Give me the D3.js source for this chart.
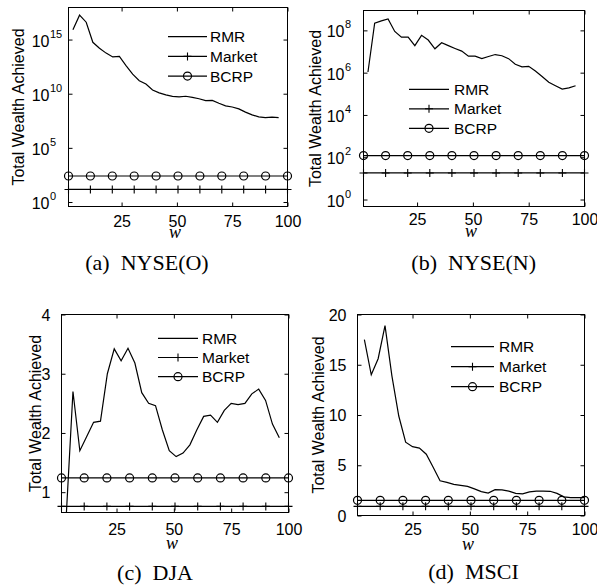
<!DOCTYPE html>
<html>
<head>
<meta charset="utf-8">
<script src="https://cdn.jsdelivr.net/npm/d3@7"></script>
<style>
  body { margin: 0; background: #fff; }
  text { font-family: 'Liberation Sans', Arial, sans-serif; fill: #000; }
  .serif { font-family: 'Liberation Serif', 'Times New Roman', serif; }
</style>
</head>
<body>
<svg id="chart" width="597" height="587"></svg>
<script>
// window sizes w
const w = [3, 6, 9, 12, 15, 18, 21, 24, 27, 30, 33, 36, 39, 42, 45, 48, 51, 54, 57, 60, 63, 66, 69, 72, 75, 78, 81, 84, 87, 90, 93, 96]
const wMSCI = [4, 7, 10, 13, 16, 19, 22, 25, 28, 31, 34, 37, 40, 43, 46, 49, 52, 55, 58, 61, 64, 67, 70, 73, 76, 79, 82, 85, 88, 91, 94, 97, 100]
const markerW = [1, 10.9, 20.8, 30.7, 40.6, 50.5, 60.4, 70.3, 80.2, 90.1, 100]
const xTicks = [25, 50, 75, 100]

// RMR total wealth
const rmrNYSEO = [7.9e15, 1.8e17, 4.0e16, 5.6e14, 1.6e14, 5.6e13, 2.5e13, 2.8e13, 4.0e12, 6.3e11, 1.6e11, 7.9e10, 2.2e10, 1.2e10, 7.9e9, 5.6e9,
  5.2e9, 5.8e9, 4.6e9, 3.4e9, 2.3e9, 2.4e9, 1.3e9, 7.6e8, 5.9e8, 4.0e8, 2.0e8, 1.1e8, 7.2e7, 6.3e7, 6.9e7, 6.3e7]
const rmrNYSEN = [1.07e6, 2.2e8, 2.8e8, 3.5e8, 8.9e7, 4.8e7, 4.8e7, 1.9e7, 5.8e7, 3.5e7, 1.35e7, 2.6e7, 1.9e7, 1.4e7, 1.05e7, 6.0e6,
  6.0e6, 4.6e6, 5.8e6, 7.2e6, 6.3e6, 4.6e6, 2.5e6, 1.9e6, 2.0e6, 1.2e6, 6.6e5, 3.5e5, 2.4e5, 1.66e5, 1.9e5, 2.4e5]
const rmrDJA = [0.55, 2.70, 1.70, 1.94, 2.18, 2.20, 3.0, 3.42, 3.22, 3.43, 3.18, 2.68, 2.50, 2.46, 2.05, 1.70,
  1.60, 1.66, 1.80, 2.05, 2.28, 2.30, 2.18, 2.38, 2.50, 2.48, 2.50, 2.66, 2.74, 2.55, 2.15, 1.92]
const rmrMSCI = [17.5, 14.0, 15.6, 18.9, 13.9, 9.9, 7.3, 6.85, 6.7, 6.1, 4.8, 3.45, 3.3, 3.1, 3.0, 2.9,
  2.65, 2.38, 2.23, 2.57, 2.55, 2.42, 2.2, 2.15, 2.35, 2.43, 2.42, 2.41, 2.2, 1.85, 1.77, 1.77, 1.77]

// benchmarks (constant in w)
const market = [14.50, 18.06, 0.76, 0.91]
const bcrp = [250.60, 120.32, 1.24, 1.51]

// y ticks
const yTicksNYSEO = [1, 1e5, 1e10, 1e15]
const yTicksNYSEN = [1, 1e2, 1e4, 1e6, 1e8]
const yTicksDJA = [1, 2, 3, 4]
const yTicksMSCI = [0, 5, 10, 15, 20]

const legendNames = ['RMR', 'Market', 'BCRP']
const captions = [['(a)', 'NYSE(O)'], ['(b)', 'NYSE(N)'], ['(c)', 'DJA'], ['(d)', 'MSCI']]

const panels = [
  { ws: w, rmr: rmrNYSEO, log: true, yDomain: [10 ** -0.415, 10 ** 17.96], yTicks: yTicksNYSEO,
    box: [68.5, 7.5, 287.5, 206.5], leg: [168, 207, 210, 36.7, 19.7], ylabX: 18, capX: 147, capY: 270, tickY: 226.5, wY: 238 },
  { ws: w, rmr: rmrNYSEN, log: true, yDomain: [10 ** -0.33, 10 ** 8.94], yTicks: yTicksNYSEN,
    box: [363.5, 10.5, 584.5, 206.5], leg: [409, 449, 454, 89.3, 19.5], ylabX: 315.5, capX: 473.7, capY: 270, tickY: 225, wY: 237 },
  { ws: w, rmr: rmrDJA, log: false, yDomain: [0.657, 4], yTicks: yTicksDJA,
    box: [61.5, 314.5, 288.5, 512.5], leg: [158, 198, 202, 338.3, 19.2], ylabX: 35, capX: 155, capY: 580, tickY: 535, wY: 549 },
  { ws: wMSCI, rmr: rmrMSCI, log: false, yDomain: [0, 20], yTicks: yTicksMSCI,
    box: [357.5, 314.5, 584.5, 515.5], leg: [451, 494, 499, 346.7, 20], ylabX: 318, capX: 473.5, capY: 579, tickY: 535, wY: 550 }
]

const svg = d3.select('#chart')

function plus (sel, cx, cy, s) {
  sel.append('path')
    .attr('d', `M${cx - s},${cy}H${cx + s}M${cx},${cy - s}V${cy + s}`)
    .attr('stroke', '#000').attr('stroke-width', 1.1).attr('fill', 'none')
}

panels.forEach((p, i) => {
  let [x0, y0, x1, y1] = p.box
  let x = d3.scaleLinear().domain([1, 100]).range([x0, x1])
  let y = (p.log ? d3.scaleLog() : d3.scaleLinear()).domain(p.yDomain).range([y1, y0])
  let g = svg.append('g')

  g.append('clipPath').attr('id', 'clip' + i)
    .append('rect').attr('x', x0).attr('y', y0).attr('width', x1 - x0).attr('height', y1 - y0)

  // ticks, inside on all four sides
  let strip = a => a.select('.domain').remove()
  g.append('g').attr('transform', `translate(0,${y1})`)
    .call(d3.axisBottom(x).tickValues(xTicks).tickSize(-4).tickPadding(0)).call(strip)
    .call(a => a.selectAll('text').attr('y', p.tickY - y1).attr('dy', null)
      .style('font-size', '16px').style('font-family', null))
  g.append('g').attr('transform', `translate(0,${y0})`)
    .call(d3.axisTop(x).tickValues(xTicks).tickSize(-4).tickFormat('')).call(strip)
  g.append('g').attr('transform', `translate(${x1},0)`)
    .call(d3.axisRight(y).tickValues(p.yTicks).tickSize(-4).tickFormat('')).call(strip)
  let left = g.append('g').attr('transform', `translate(${x0},0)`)
    .call(d3.axisLeft(y).tickValues(p.yTicks).tickSize(-4).tickFormat('')).call(strip)
  g.selectAll('.tick line').attr('stroke', '#000')

  if (p.log) {
    p.yTicks.forEach(t => {
      let ty = y(t)
      left.append('text').attr('x', -19).attr('y', ty + 7).attr('text-anchor', 'end')
        .style('font-size', '16px').text('10')
      left.append('text').attr('x', -18.5).attr('y', ty - 2).attr('text-anchor', 'start')
        .style('font-size', '11px').text(Math.round(Math.log10(t)))
    })
  } else {
    p.yTicks.forEach(t => {
      left.append('text').attr('x', -11).attr('y', y(t) + 6).attr('text-anchor', 'end')
        .style('font-size', '16px').text(t)
    })
  }

  // benchmark lines
  g.append('line').attr('x1', x(1)).attr('x2', x(100)).attr('y1', y(market[i])).attr('y2', y(market[i]))
    .attr('stroke', '#000').attr('stroke-width', 1.2)
  g.append('line').attr('x1', x(1)).attr('x2', x(100)).attr('y1', y(bcrp[i])).attr('y2', y(bcrp[i]))
    .attr('stroke', '#000').attr('stroke-width', 1.2)
  markerW.forEach(m => plus(g, x(m), y(market[i]), 4))
  g.selectAll('.bcrp').data(markerW).enter().append('circle')
    .attr('cx', d => x(d)).attr('cy', y(bcrp[i])).attr('r', 4)
    .attr('fill', 'none').attr('stroke', '#000').attr('stroke-width', 1.2)

  // RMR line
  let line = d3.line().x((d, k) => x(p.ws[k])).y(d => y(d))
  g.append('path').datum(p.rmr).attr('d', line).attr('clip-path', `url(#clip${i})`)
    .attr('fill', 'none').attr('stroke', '#000').attr('stroke-width', 1.2)

  // box
  g.append('rect').attr('x', x0).attr('y', y0).attr('width', x1 - x0).attr('height', y1 - y0)
    .attr('fill', 'none').attr('stroke', '#000').attr('stroke-width', 1)

  // legend
  let [lx0, lx1, tx, ly, dy] = p.leg
  legendNames.forEach((name, k) => {
    let yy = ly + k * dy
    g.append('line').attr('x1', lx0).attr('x2', lx1).attr('y1', yy).attr('y2', yy)
      .attr('stroke', '#000').attr('stroke-width', 1.2)
    if (k === 1) plus(g, (lx0 + lx1) / 2, yy, 4)
    if (k === 2) {
      g.append('circle').attr('cx', (lx0 + lx1) / 2).attr('cy', yy).attr('r', 4)
        .attr('fill', 'none').attr('stroke', '#000').attr('stroke-width', 1.2)
    }
    g.append('text').attr('x', tx).attr('y', yy + 5.5).style('font-size', '15.5px').text(name)
  })

  // axis labels
  g.append('text')
    .attr('transform', `translate(${p.ylabX},${(y0 + y1) / 2}) rotate(-90)`)
    .attr('text-anchor', 'middle').attr('dy', '0.36em')
    .style('font-size', '16px').text('Total Wealth Achieved')
  g.append('text').attr('class', 'serif').attr('x', (x0 + x1) / 2 - 3).attr('y', p.wY)
    .attr('text-anchor', 'middle').style('font-size', '18px').style('font-style', 'italic').text('w')

  // caption
  let cap = g.append('text').attr('class', 'serif').attr('x', p.capX).attr('y', p.capY)
    .attr('text-anchor', 'middle').style('font-size', '22px')
  cap.append('tspan').text(captions[i][0])
  cap.append('tspan').attr('dx', 11).text(captions[i][1])
})
</script>
</body>
</html>
